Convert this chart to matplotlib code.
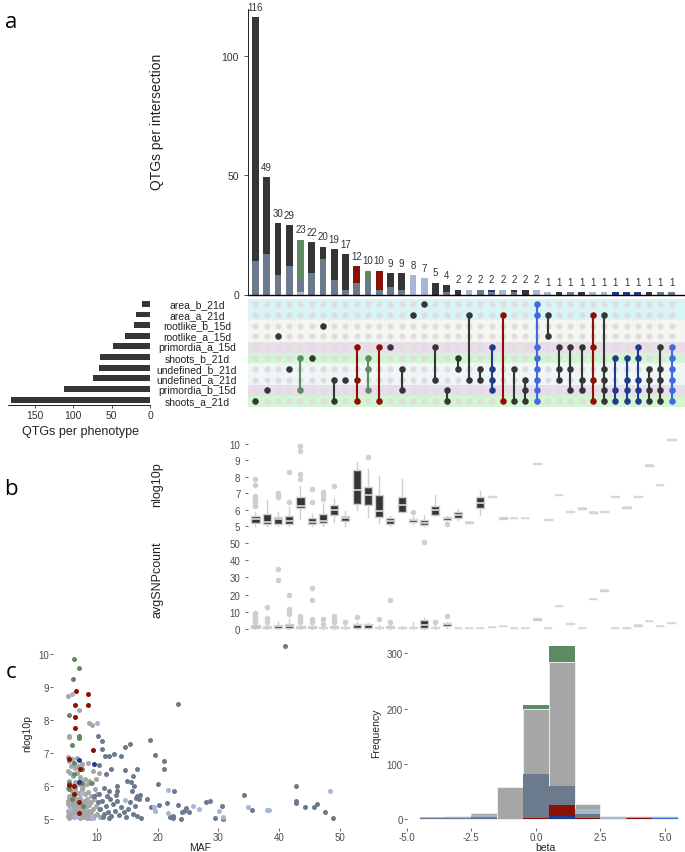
import numpy as np
import matplotlib
matplotlib.use("Agg")
from matplotlib import pyplot as plt
from matplotlib.transforms import blended_transform_factory

plt.rcParams['font.family'] = ['Liberation Sans', 'DejaVu Sans']

# ---------------- data: upset ----------------
set_names = ['area_b_21d', 'area_a_21d', 'rootlike_b_15d', 'rootlike_a_15d', 'primordia_a_15d',
             'shoots_b_21d', 'undefined_b_21d', 'undefined_a_21d', 'primordia_b_15d', 'shoots_a_21d']
set_sizes = [10, 18, 21, 33, 48, 65, 66, 74, 112, 181]
set_band = ['#d9f4f6', '#d9f4f6', '#f4f6f1', '#f4f6f1', '#e9dde9',
            '#d2f5d2', '#eef6f8', '#eef6f8', '#e9dde9', '#d2f5d2']

inter_sizes = [116, 49, 30, 29, 23, 22, 20, 19, 17, 12, 10, 10, 9, 9, 8, 7, 5, 4,
               2, 2, 2, 2, 2, 2, 2, 2, 1, 1, 1, 1, 1, 1, 1, 1, 1, 1, 1, 1]
# main fill of each bar
bar_main = ['dk', 'dk', 'dk', 'dk', 'gr', 'dk', 'dk', 'dk', 'dk', 'rd', 'gr', 'rd', 'dk', 'dk', 'lb', 'lb', 'dk', 'dk',
            'dk', 'lb', 'sl', 'nv', 'lb', 'dk', 'dk', 'lb', 'lb', 'dk', 'sl', 'dk', 'lb', 'lb', 'nv', 'nv', 'nv', 'dk', 'sl', 'sl']
# overlaid counts at the bottom of bars
bar_lb = [0, 0, 0, 0, 1, 0, 0, 0, 0, 0, 0, 0, 0, 0, 0, 0, 0, 0,
          0, 0, 0, 0, 0, 0, 0, 0, 0, 0, 0, 0, 0, 0, 0, 0, 0, 0, 0, 0]
bar_sl = [14, 17, 8, 12, 5, 9, 15, 6, 2, 5, 6, 2, 3, 2, 0, 0, 0, 1,
          0, 0, 0, 1, 0, 1, 0, 0, 0, 0, 0, 0, 0, 0, 0, 0, 0, 0, 0, 0]

members = [[9], [8], [3], [6], [5, 8], [5], [2], [7, 9], [7], [4, 7, 9], [5, 6, 8], [4, 9], [4], [6, 8],
           [1], [0], [4, 7], [8, 9], [5, 6], [1, 7], [6, 7], [4, 6, 7, 8], [1, 9], [6, 9], [7, 8, 9],
           [0, 1, 4, 5, 6, 7, 8, 9], [1, 3], [4, 6, 7], [4, 6, 8], [4, 7, 8], [1, 4, 7, 9], [1, 6, 7, 8, 9],
           [5, 8, 9], [5, 7, 8, 9], [4, 5, 7, 8, 9], [6, 7, 8, 9], [4, 6, 7, 8, 9], [4, 5, 6, 7, 8, 9]]
mat_col = ['dk', 'dk', 'dk', 'dk', 'gr', 'dk', 'dk', 'dk', 'dk', 'rd', 'gr', 'rd', 'dk', 'dk', 'dk', 'dk', 'dk', 'dk',
           'dk', 'dk', 'dk', 'nv', 'rd', 'dk', 'dk', 'bl', 'dk', 'dk', 'dk', 'dk', 'rd', 'dk', 'nv', 'nv', 'nv', 'dk', 'dk', 'bl']

pal = {'dk': '#353535', 'sl': '#6c7a8e', 'lb': '#a5b7d5', 'nv': '#1f3b8c',
       'gr': '#5f8b63', 'rd': '#8b1006', 'bl': '#4169e1', 'gy': '#a6a6a6'}

# ---------------- data: boxplots (whislo, q1, med, q3, whishi, outliers) ----------------
nlog_stats = [
    (5.04, 5.20, 5.42, 5.64, 5.85, [6.25, 6.4, 6.55, 6.7, 6.85, 7.53, 7.87]),
    (5.04, 5.14, 5.28, 5.73, 6.60, []),
    (5.04, 5.14, 5.42, 5.58, 5.85, [6.78, 6.9, 7.0]),
    (5.04, 5.14, 5.32, 5.60, 6.15, [6.45, 8.32]),
    (5.44, 6.09, 6.23, 6.76, 7.47, [7.87, 8.2, 9.55, 9.9]),
    (5.04, 5.14, 5.24, 5.48, 5.75, [6.45, 7.27]),
    (5.04, 5.20, 5.30, 5.75, 6.41, [6.66, 6.9, 7.06]),
    (5.24, 5.69, 6.01, 6.29, 6.70, [7.47]),
    (5.04, 5.30, 5.50, 5.60, 5.95, []),
    (6.01, 6.37, 7.22, 8.42, 8.88, []),
    (5.54, 6.29, 6.92, 7.40, 8.50, [9.23]),
    (5.18, 5.54, 5.95, 6.92, 8.07, []),
    (5.04, 5.12, 5.32, 5.48, 5.60, []),
    (5.89, 5.89, 6.29, 6.76, 7.87, []),
    (5.14, 5.24, 5.38, 5.44, 5.60, [5.85]),
    (5.04, 5.10, 5.20, 5.40, 5.69, []),
    (5.60, 5.70, 6.01, 6.25, 6.90, []),
    (5.40, 5.40, 5.48, 5.54, 5.60, [5.14]),
    (5.40, 5.50, 5.69, 5.85, 6.05, []),
    (5.22, 5.22, 5.24, 5.26, 5.26, []),
    (5.69, 6.09, 6.41, 6.76, 7.16, []),
    (6.78, 6.78, 6.80, 6.82, 6.82, []),
    (5.45, 5.45, 5.50, 5.55, 5.55, []),
    (5.48, 5.48, 5.50, 5.52, 5.52, []),
    (5.48, 5.48, 5.50, 5.52, 5.52, []),
    (8.78, 8.78, 8.80, 8.82, 8.82, []),
    (5.38, 5.38, 5.40, 5.42, 5.42, []),
    (6.88, 6.88, 6.90, 6.92, 6.92, []),
    (5.88, 5.88, 5.90, 5.92, 5.92, []),
    (6.08, 6.08, 6.10, 6.12, 6.12, []),
    (5.83, 5.83, 5.85, 5.87, 5.87, []),
    (5.88, 5.88, 5.90, 5.92, 5.92, []),
    (6.78, 6.78, 6.80, 6.82, 6.82, []),
    (6.13, 6.13, 6.15, 6.17, 6.17, []),
    (6.78, 6.78, 6.80, 6.82, 6.82, []),
    (8.68, 8.68, 8.70, 8.72, 8.72, []),
    (7.48, 7.48, 7.50, 7.52, 7.52, []),
    (10.23, 10.23, 10.25, 10.27, 10.27, []),
]
snp_stats = [
    (0.3, 0.6, 1.3, 2.5, 3.6, [4.0, 5.0, 6.0, 7.0, 8.0, 9.4]),
    (0.3, 0.6, 1.1, 2.1, 3.5, [4.4, 5.4, 6.3, 12.7]),
    (0.3, 0.6, 1.7, 2.5, 4.6, [28.7, 34.7]),
    (0.3, 0.6, 2.1, 3.1, 6.0, [8.6, 10.2, 11.7, 19.8]),
    (0.3, 0.6, 1.1, 2.0, 3.0, [4.0, 5.0, 6.0, 7.9]),
    (0.3, 0.6, 1.1, 2.0, 3.0, [4.0, 5.0, 6.0, 16.9, 23.7]),
    (0.3, 0.6, 1.0, 1.5, 2.5, [3.0, 6.0]),
    (0.3, 0.6, 1.0, 1.8, 3.0, [4.4, 6.0, 7.5]),
    (0.3, 0.6, 1.0, 1.5, 2.5, [4.4]),
    (0.3, 1.0, 2.5, 3.0, 4.0, [6.9]),
    (0.5, 1.0, 2.3, 2.9, 3.4, []),
    (0.3, 0.6, 1.0, 1.5, 2.5, [6.0]),
    (0.3, 0.6, 1.0, 1.8, 3.0, [4.4, 16.9]),
    (0.5, 0.6, 1.0, 1.5, 1.8, []),
    (0.3, 0.6, 1.0, 1.5, 4.0, []),
    (0.5, 0.9, 2.5, 5.2, 6.5, [50.7]),
    (0.3, 0.6, 1.0, 1.5, 2.5, [4.4]),
    (1.0, 1.7, 2.9, 3.6, 4.2, [7.9]),
    (0.9, 0.9, 1.0, 1.0, 1.0, []),
    (0.9, 0.9, 1.0, 1.0, 1.0, []),
    (0.9, 0.9, 1.0, 1.0, 1.0, []),
    (1.2, 1.2, 1.5, 1.5, 1.5, []),
    (1.8, 1.8, 2.0, 2.2, 2.2, []),
    (0.9, 0.9, 1.0, 1.0, 1.0, []),
    (0.9, 0.9, 1.0, 1.0, 1.0, []),
    (5.2, 5.2, 6.0, 6.5, 6.5, []),
    (0.9, 0.9, 1.0, 1.0, 1.0, []),
    (13.3, 13.3, 13.5, 13.7, 13.7, []),
    (3.1, 3.1, 3.3, 3.5, 3.5, []),
    (0.9, 0.9, 1.0, 1.0, 1.0, []),
    (17.3, 17.3, 17.5, 17.7, 17.7, []),
    (22.3, 22.3, 22.5, 22.7, 22.7, []),
    (0.9, 0.9, 1.0, 1.0, 1.0, []),
    (0.9, 0.9, 1.0, 1.0, 1.0, []),
    (2.1, 2.1, 2.3, 2.5, 2.5, []),
    (4.6, 4.6, 4.8, 5.0, 5.0, []),
    (1.8, 1.8, 2.0, 2.2, 2.2, []),
    (3.5, 3.5, 3.7, 3.9, 3.9, []),
]

# ---------------- data: scatter (MAF, nlog10p) ----------------
gray_maf = [5.3, 5.5, 6.0, 6.8, 7.6, 8.5, 5.8, 6.5, 9.3, 5.3, 5.6, 6.1, 6.7, 7.3, 8.0, 8.7, 9.8, 5.4, 6.4, 7.0,
            7.7, 8.4, 9.2, 10.3, 5.2, 5.6, 6.0, 6.5, 7.0, 7.5, 8.0, 8.6, 9.1, 9.7, 5.4, 5.8, 6.3, 6.8, 7.3, 7.9,
            8.4, 9.0, 9.6, 10.1, 5.2, 6.1, 7.1, 5.2, 5.6, 6.0, 6.4, 6.9, 7.4, 7.8, 8.3, 8.8, 9.3, 9.8, 5.3, 5.7,
            6.2, 6.6, 7.2, 7.6, 8.1, 8.6, 9.0, 9.5, 10.0, 5.2, 5.5, 5.9, 6.3, 6.8, 7.3, 7.9, 8.4, 8.9, 9.4, 5.8,
            6.5, 7.0, 8.0, 10.4, 10.6, 5.3, 7.1, 8.7, 9.2, 5.4, 5.4, 6.9,
            5.5, 5.9, 6.6, 7.4, 8.2, 5.6, 6.2, 6.9, 7.7, 8.5, 5.4, 6.0, 6.7, 7.5, 5.7, 6.4, 7.2, 8.8]
gray_p = [6.88, 6.75, 6.82, 6.86, 6.68, 6.70, 6.60, 6.55, 6.45, 6.45, 6.38, 6.30, 6.40, 6.28, 6.20, 6.15, 6.22, 6.15, 6.12, 6.05,
          6.00, 6.05, 6.10, 6.40, 5.95, 5.90, 5.85, 5.92, 5.80, 5.88, 5.75, 5.82, 5.70, 5.90, 5.70, 5.62, 5.68, 5.60, 5.65, 5.55,
          5.60, 5.52, 5.60, 5.75, 5.55, 5.52, 5.50, 5.45, 5.40, 5.42, 5.35, 5.40, 5.38, 5.45, 5.35, 5.42, 5.30, 5.38, 5.25, 5.20,
          5.28, 5.18, 5.22, 5.15, 5.25, 5.12, 5.20, 5.10, 5.15, 5.08, 5.02, 5.10, 5.05, 5.08, 5.02, 5.06, 5.02, 5.04, 5.02, 5.32,
          5.50, 5.30, 5.12, 5.30, 5.05, 8.72, 8.30, 7.90, 7.85, 7.52, 7.47, 6.60,
          5.15, 5.22, 5.28, 5.12, 5.18, 5.35, 5.45, 5.55, 5.30, 5.48, 5.62, 5.72, 5.78, 5.95, 6.02, 5.98, 6.18, 5.25]
slate_maf = [41.0, 23.3, 18.8, 19.5, 21.0, 21.1, 20.1, 22.7, 10.2, 10.8, 10.8, 11.3, 12.0, 12.8, 14.0, 14.7, 15.5, 10.3, 11.5, 12.3,
             14.6, 16.0, 16.7, 13.3, 13.3, 14.9, 15.7, 16.1, 15.8, 16.7, 17.1, 16.4, 10.2, 10.5, 10.9, 11.2, 11.5, 11.8, 12.1, 12.4,
             12.7, 13.0, 13.4, 13.7, 14.0, 14.4, 14.8, 15.1, 15.5, 15.9, 16.3, 16.6, 17.0, 17.3, 11.0, 12.0, 13.2, 10.4, 11.7, 9.5,
             28.0, 28.6, 30.6, 29.5, 30.8, 34.2, 35.6, 42.8, 42.8, 42.8, 44.3, 45.7, 46.2, 47.5, 48.9, 24.7, 24.4, 24.0, 23.3, 22.6,
             22.6, 23.9, 21.5, 20.2, 18.9, 18.2, 22.0, 25.2, 12.0, 11.2]
slate_p = [10.25, 8.48, 7.40, 6.94, 6.77, 6.50, 6.06, 5.86, 7.50, 7.35, 7.12, 6.92, 6.92, 6.97, 6.92, 7.17, 7.27, 6.62, 6.36, 6.51,
           6.48, 6.31, 6.50, 6.00, 5.86, 6.16, 6.13, 6.00, 5.86, 5.71, 5.73, 5.63, 5.50, 5.30, 5.55, 5.15, 5.40, 5.20, 5.60, 5.10,
           5.45, 5.25, 5.55, 5.12, 5.35, 5.20, 5.05, 5.30, 5.50, 5.15, 5.40, 5.10, 5.60, 5.02, 5.05, 5.02, 5.72, 5.75, 5.70, 5.70,
           5.50, 5.54, 5.40, 5.03, 5.00, 5.74, 5.28, 6.01, 5.54, 5.49, 5.37, 5.37, 5.44, 5.20, 5.03, 5.33, 5.25, 5.20, 5.42, 5.08,
           5.02, 5.00, 5.47, 5.42, 5.35, 5.60, 5.05, 5.20, 5.85, 5.95]
lb_maf = [6.0, 10.0, 21.7, 19.4, 19.6, 21.7, 14.7, 25.8, 26.8, 30.1, 30.8, 34.9, 38.3, 38.0, 48.3, 6.8, 7.5, 5.6, 6.5, 9.2]
lb_p = [8.79, 7.90, 5.89, 5.37, 5.25, 5.17, 5.59, 5.38, 5.30, 5.25, 5.07, 5.35, 5.27, 5.26, 5.84, 5.10, 5.80, 5.30, 5.05, 5.05]
green_maf = [6.2, 7.0, 6.1, 5.4, 7.0, 7.0, 6.0, 6.2, 6.2, 7.6, 9.0, 5.4, 5.5, 7.6, 7.8, 6.0]
green_p = [9.85, 9.57, 9.23, 8.16, 7.50, 7.45, 7.25, 6.70, 6.35, 6.50, 6.10, 6.10, 5.90, 6.10, 5.40, 5.60]
red_maf = [6.6, 8.5, 6.5, 8.5, 6.5, 6.5, 9.4, 5.4, 7.2, 5.4, 6.2, 6.3, 7.1, 7.1]
red_p = [8.88, 8.77, 8.44, 8.44, 8.10, 7.77, 7.10, 6.82, 6.50, 6.02, 6.00, 5.77, 5.50, 5.18]
navy_maf = [7.0, 9.6, 7.0]
navy_p = [6.78, 6.66, 6.12]

# ---------------- data: histogram of beta (bins of width 1) ----------------
bin_centers = [-4, -3, -2, -1, 0, 1, 2, 3, 4, 5]
hist_green = [0, 0, 0, 0, 207, 313, 0, 0, 0, 0]
hist_gray = [2, 5, 11, 58, 200, 285, 28, 5, 5, 5]
hist_lb = [3, 3, 7, 0, 0, 0, 18, 3, 2, 3]
hist_slate = [2, 2, 4, 0, 82, 59, 9, 0, 0, 0]
hist_red = [0, 0, 0, 0, 1, 26, 1, 0, 2, 0]
hist_navy = [0, 0, 0, 0, 0, 5, 0, 0, 0, 0]
hist_blue = [0, 0, 0, 0, 0, 0, 0, 0, 0, 2]

# ---------------- figure ----------------
W, H = 685, 853
fig = plt.figure(figsize=(W / 100, H / 100), dpi=100)


def add_ax(l, t, r, b):
    return fig.add_axes([l / W, 1 - b / H, (r - l) / W, (b - t) / H])


def fig_text(x, y, s, **kw):
    fig.text(x / W, 1 - y / H, s, **kw)


tick_col = '#4d4d4d'
xs = np.arange(1, len(inter_sizes) + 1)
XL = (0.333, 39.2)

# intersection bars
ax_bar = add_ax(248, 10, 685, 295.5)
main_cols = [pal[c] for c in bar_main]
ax_bar.bar(xs, inter_sizes, width=0.6, color=main_cols)
ax_bar.bar(xs, bar_lb, width=0.6, color=pal['lb'])
ax_bar.bar(xs, bar_sl, width=0.6, bottom=bar_lb, color=pal['sl'])
for x, v in zip(xs, inter_sizes):
    ax_bar.text(x, v + 2.2, str(v), ha='center', va='bottom', fontsize=7, color='#333333')
ax_bar.set_xlim(*XL)
ax_bar.set_ylim(0, 119.5)
ax_bar.set_xticks([])
ax_bar.set_yticks([0, 50, 100])
ax_bar.tick_params(axis='y', labelsize=7.5, colors='#333333', length=3, width=0.6)
for s in ['top', 'right']:
    ax_bar.spines[s].set_visible(False)
ax_bar.spines['left'].set_linewidth(0.6)
ax_bar.spines['bottom'].set_linewidth(1.0)
fig_text(157, 122, 'QTGs per intersection', rotation=90, ha='center', va='center', fontsize=10, color='#222222')

# matrix
ax_mat = add_ax(248, 299.5, 685, 407.5)
ax_mat.set_xlim(*XL)
ax_mat.set_ylim(9.5, -0.5)
for r, c in enumerate(set_band):
    ax_mat.axhspan(r - 0.5, r + 0.5, color=c, lw=0)
gx, gy = np.meshgrid(xs, np.arange(len(set_names)))
ax_mat.scatter(gx.ravel(), gy.ravel(), s=20, color='#dedede', lw=0, zorder=2)
for x, m, c in zip(xs, members, mat_col):
    col = pal[c]
    if len(m) > 1:
        ax_mat.plot([x, x], [min(m), max(m)], color=col, lw=1.5, zorder=3)
    ax_mat.scatter([x] * len(m), m, s=22, color=col, lw=0, zorder=4)
ax_mat.axis('off')

# set labels
tr = blended_transform_factory(fig.transFigure, ax_mat.transData)
for r, name in enumerate(set_names):
    ax_mat.text(197 / W, r, name, transform=tr, ha='center', va='center', fontsize=7.5, color='#222222')

# set size bars
ax_set = add_ax(8, 299.5, 150, 406)
ax_set.barh(np.arange(len(set_sizes)), set_sizes, height=0.55, color=pal['dk'])
ax_set.set_xlim(185.2, 0)
ax_set.set_ylim(9.5, -0.5)
ax_set.set_yticks([])
ax_set.set_xticks([0, 50, 100, 150])
ax_set.tick_params(axis='x', labelsize=7.5, colors='#333333', length=2.5, width=0.6, pad=1)
for s in ['top', 'right', 'left']:
    ax_set.spines[s].set_visible(False)
ax_set.spines['bottom'].set_linewidth(0.6)
fig_text(80, 432, 'QTGs per phenotype', ha='center', va='center', fontsize=9, color='#222222')


# boxplots
def make_stats(rows):
    out = []
    for lo, q1, med, q3, hi, fl in rows:
        out.append(dict(whislo=lo, q1=q1, med=med, q3=q3, whishi=hi, fliers=fl))
    return out


box_kw = dict(widths=0.72, patch_artist=True, showcaps=False,
              boxprops=dict(facecolor='#353535', edgecolor='#cfcfcf', lw=1.0),
              whiskerprops=dict(color='#cfcfcf', lw=1.0),
              medianprops=dict(color='#d9d9d9', lw=1.2),
              flierprops=dict(marker='o', markerfacecolor='#cfcfcf', markeredgecolor='none', markersize=4))

ax_p = add_ax(248, 437, 685, 531)
ax_p.bxp(make_stats(nlog_stats), positions=xs, **box_kw)
ax_p.set_xlim(*XL)
ax_p.set_ylim(4.78, 10.48)
ax_p.set_yticks([5, 6, 7, 8, 9, 10])

ax_s = add_ax(248, 538, 685, 634)
ax_s.bxp(make_stats(snp_stats), positions=xs, **box_kw)
ax_s.set_xlim(*XL)
ax_s.set_ylim(-2.1, 53.4)
ax_s.set_yticks([0, 10, 20, 30, 40, 50])

for a in (ax_p, ax_s):
    a.set_xticks([])
    for s in a.spines.values():
        s.set_visible(False)
    a.tick_params(axis='y', labelsize=7, colors=tick_col, length=2, width=0.6)
fig_text(157, 485, 'nlog10p', rotation=90, ha='center', va='center', fontsize=9, color='#222222')
fig_text(157, 580, 'avgSNPcount', rotation=90, ha='center', va='center', fontsize=9, color='#222222')

# scatter
ax_sc = add_ax(53, 638, 346.6, 828.6)
ax_sc.scatter(gray_maf, gray_p, s=13, color=pal['gy'], lw=0)
ax_sc.scatter(slate_maf, slate_p, s=13, color=pal['sl'], lw=0)
ax_sc.scatter(lb_maf, lb_p, s=13, color=pal['lb'], lw=0)
ax_sc.scatter(green_maf, green_p, s=13, color=pal['gr'], lw=0)
ax_sc.scatter(red_maf, red_p, s=13, color=pal['rd'], lw=0)
ax_sc.scatter(navy_maf, navy_p, s=13, color=pal['nv'], lw=0)
ax_sc.set_xlim(2.8, 51.1)
ax_sc.set_ylim(4.74, 10.51)
ax_sc.set_xticks([10, 20, 30, 40, 50])
ax_sc.set_yticks([5, 6, 7, 8, 9, 10])
ax_sc.set_ylabel('nlog10p', fontsize=7.5, color='#222222', labelpad=4)
fig_text(200, 848, 'MAF', ha='center', va='center', fontsize=7.5, color='#222222')

# histogram
ax_h = add_ax(406.7, 638.5, 685.6, 828.6)
hist_layers = [(hist_green, 'gr'), (hist_gray, 'gy'), (hist_lb, 'lb'), (hist_slate, 'sl'),
               (hist_red, 'rd'), (hist_navy, 'nv'), (hist_blue, 'bl')]
for vals, c in hist_layers:
    ax_h.bar(bin_centers, vals, width=1.0, color=pal[c],
             edgecolor='#ececec' if c == 'gy' else 'none', lw=0.7)
ax_h.set_xlim(-5.0, 5.8)
ax_h.set_ylim(-15.6, 328.6)
ax_h.set_xticks([-5, -2.5, 0, 2.5, 5])
ax_h.set_xticklabels(['-5.0', '-2.5', '0.0', '2.5', '5.0'])
ax_h.set_yticks([0, 100, 200, 300])
ax_h.set_ylabel('Frequency', fontsize=7.5, color='#222222', labelpad=4)
fig_text(545, 848, 'beta', ha='center', va='center', fontsize=7.5, color='#222222')

for a in (ax_sc, ax_h):
    for s in a.spines.values():
        s.set_visible(False)
    a.tick_params(labelsize=7, colors=tick_col, length=2, width=0.6, pad=1)

# panel letters
for lab, x, y in [('a', 11, 22), ('b', 11, 490), ('c', 11, 673)]:
    fig.text(x / W, 1 - y / H, lab, fontsize=16, ha='center', va='center', family=['Open Sans', 'DejaVu Sans'])

fig.savefig('out.png', dpi=100)
